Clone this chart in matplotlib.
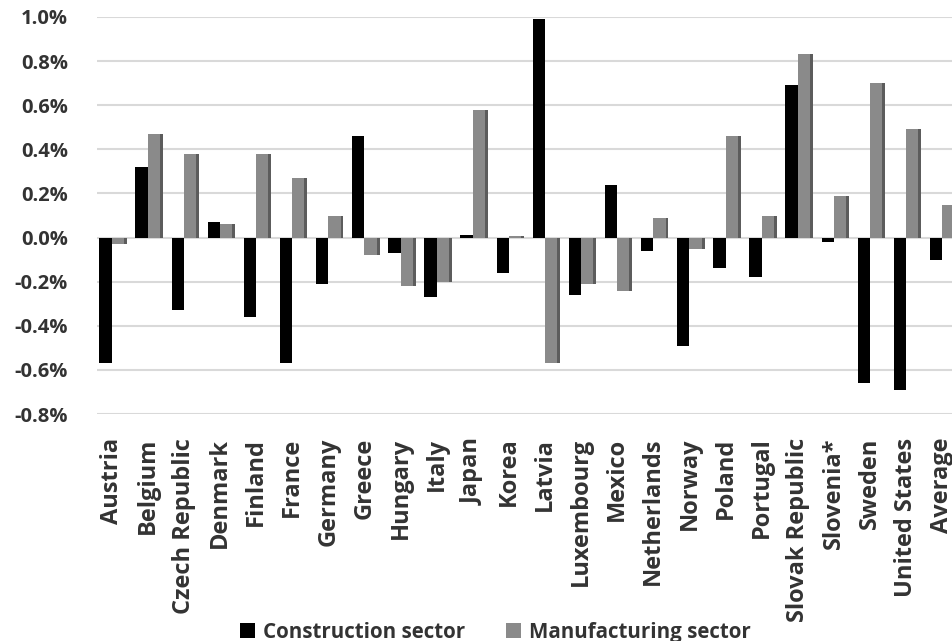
import numpy as np
import matplotlib
matplotlib.use("Agg")
import matplotlib.pyplot as plt
from matplotlib.patches import Patch
from matplotlib.ticker import FuncFormatter

countries = ["Austria", "Belgium", "Czech Republic", "Denmark", "Finland", "France",
             "Germany", "Greece", "Hungary", "Italy", "Japan", "Korea", "Latvia",
             "Luxembourg", "Mexico", "Netherlands", "Norway", "Poland", "Portugal",
             "Slovak Republic", "Slovenia*", "Sweden", "United States", "Average"]

# percent change
construction = [-0.57, 0.32, -0.33, 0.07, -0.36, -0.57, -0.21, 0.46, -0.07, -0.27,
                0.01, -0.16, 0.99, -0.26, 0.24, -0.06, -0.49, -0.14, -0.18,
                0.69, -0.02, -0.66, -0.69, -0.10]
manufacturing = [-0.03, 0.47, 0.38, 0.06, 0.38, 0.27, 0.10, -0.08, -0.22, -0.20,
                 0.58, 0.005, -0.57, -0.21, -0.24, 0.09, -0.05, 0.46, 0.10,
                 0.83, 0.19, 0.70, 0.49, 0.15]

yticks = [-0.8, -0.6, -0.4, -0.2, 0.0, 0.2, 0.4, 0.6, 0.8, 1.0]

plt.rcParams['font.family'] = ['Open Sans', 'DejaVu Sans']
plt.rcParams['font.weight'] = 'bold'
txt = '#333333'

fig = plt.figure(figsize=(9.53, 6.41), dpi=100)
ax = fig.add_axes([0.102, 0.354, 0.898, 0.6195])

x = np.arange(len(countries))
w = 0.34
side = 0.08

# front faces
ax.bar(x - w / 2, construction, width=w, color='#000000', zorder=3)
ax.bar(x + w / 2, manufacturing, width=w, color='#8a8a8a', zorder=3)
# darker right-hand faces for a bit of depth
ax.bar(x + w, manufacturing, width=side, align='edge', color='#5c5c5c', zorder=2)

ax.set_ylim(-0.8, 1.0)
ax.set_xlim(-0.4, len(countries) - 0.7)
ax.set_yticks(yticks)
ax.yaxis.set_major_formatter(FuncFormatter(lambda v, p: f"{v:.1f}%"))
ax.grid(axis='y', color='#d9d9d9', linewidth=1.5, zorder=0)
ax.set_axisbelow(True)

ax.set_xticks(x)
ax.set_xticklabels(countries, rotation=90, va='top', ha='center')
ax.tick_params(axis='x', length=0, pad=17, labelsize=17, labelcolor=txt)
ax.tick_params(axis='y', length=0, pad=21, labelsize=14.5, labelcolor=txt)
for s in ax.spines.values():
    s.set_visible(False)

handles = [Patch(facecolor='#000000', label='Construction sector'),
           Patch(facecolor='#8a8a8a', label='Manufacturing sector')]
fig.legend(handles=handles, loc='center', bbox_to_anchor=(0.52, 0.014), ncol=2,
           frameon=False, fontsize=14.8, labelcolor=txt, handlelength=0.7,
           handleheight=0.7, handletextpad=0.4, columnspacing=2.0)

fig.savefig('out.png', dpi=100)
